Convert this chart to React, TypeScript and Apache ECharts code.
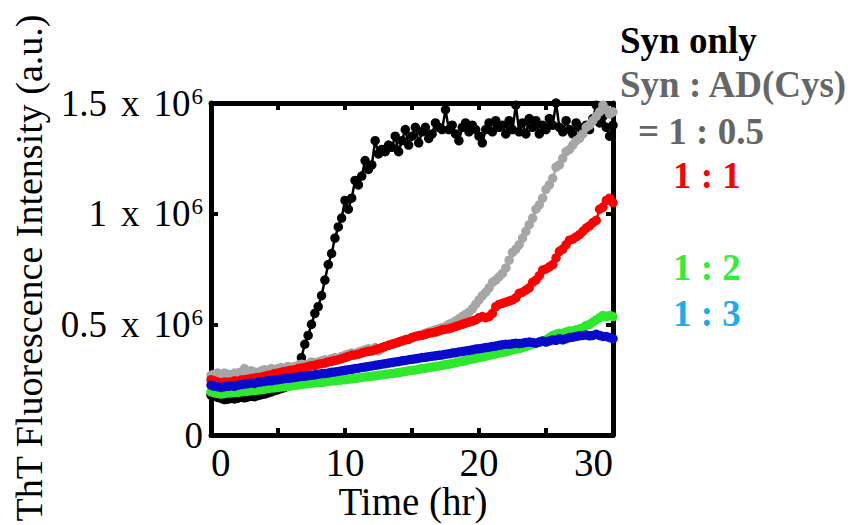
import React, { useEffect, useRef } from "react";
import * as echarts from "echarts";

// Sampling interval of the plate reader (hours)
const TIME_STEP_HR = 0.25;

// ThT fluorescence, units of 10^6 a.u.
const synOnly = [
  0.18, 0.175, 0.17, 0.165, 0.16, 0.162, 0.165, 0.163, 0.166, 0.17, 0.168, 0.172, 0.175, 0.173, 0.178, 0.182, 0.185,
  0.19, 0.195, 0.2, 0.205, 0.21, 0.215, 0.22, 0.24, 0.27,
  0.31, 0.35, 0.41, 0.45, 0.5, 0.55, 0.58, 0.63, 0.7, 0.77, 0.82, 0.89, 0.94, 0.98, 1.06,
  1.02, 1.07, 1.15, 1.13, 1.17, 1.24, 1.2, 1.22, 1.33, 1.27, 1.29, 1.28, 1.31, 1.3, 1.35, 1.28, 1.33, 1.38, 1.31, 1.35,
  1.39, 1.32, 1.37, 1.39, 1.34, 1.36, 1.41, 1.39, 1.38, 1.47, 1.38, 1.4, 1.36, 1.33, 1.39, 1.41, 1.37, 1.4, 1.38, 1.35,
  1.32, 1.38, 1.41, 1.37, 1.42, 1.39, 1.4, 1.36, 1.42, 1.38, 1.49, 1.37, 1.41, 1.36, 1.43, 1.39, 1.42, 1.36, 1.4, 1.38,
  1.43, 1.4, 1.5, 1.39, 1.37, 1.42, 1.38, 1.36, 1.41, 1.39, 1.37, 1.4, 1.38, 1.43, 1.49, 1.41, 1.44, 1.39, 1.35, 1.4,
];

const ratio1to05 = [
  0.27, 0.275, 0.28, 0.27, 0.28, 0.275, 0.27, 0.28, 0.28, 0.285, 0.3, 0.28, 0.29, 0.285, 0.28, 0.29, 0.295, 0.29, 0.3, 0.295, 0.3,
  0.305, 0.3, 0.31, 0.305, 0.31, 0.315, 0.32, 0.315, 0.32, 0.33, 0.325, 0.33, 0.335, 0.34, 0.335, 0.345, 0.35, 0.345, 0.355, 0.36,
  0.365, 0.37, 0.365, 0.375, 0.38, 0.385, 0.39, 0.385, 0.395, 0.38, 0.39, 0.4, 0.405, 0.41, 0.415, 0.42, 0.425, 0.43, 0.435, 0.44,
  0.445, 0.45, 0.455, 0.46, 0.465, 0.47, 0.475, 0.48, 0.485, 0.49, 0.5, 0.505, 0.515, 0.525, 0.535, 0.545, 0.555, 0.57, 0.59, 0.61,
  0.63, 0.645, 0.665, 0.69, 0.7, 0.715, 0.73, 0.755, 0.79, 0.825, 0.84, 0.86, 0.89, 0.92, 0.95, 0.98, 1.02, 1.04, 1.07, 1.11,
  1.13, 1.16, 1.21, 1.22, 1.25, 1.28, 1.29, 1.31, 1.33, 1.34, 1.36, 1.39, 1.4, 1.42, 1.44, 1.46, 1.49, 1.47, 1.45, 1.46,
];

const ratio1to1 = [
  0.25, 0.245, 0.24, 0.235, 0.24, 0.238, 0.24, 0.245, 0.243, 0.248, 0.25, 0.252, 0.255, 0.258, 0.26, 0.262, 0.265, 0.27, 0.272, 0.278, 0.28,
  0.283, 0.287, 0.29, 0.293, 0.295, 0.3, 0.303, 0.305, 0.31, 0.313, 0.315, 0.32, 0.322, 0.325, 0.33, 0.333, 0.337, 0.34, 0.345, 0.35,
  0.355, 0.36, 0.362, 0.365, 0.37, 0.375, 0.378, 0.38, 0.385, 0.39, 0.395, 0.4, 0.405, 0.41, 0.415, 0.42, 0.425, 0.43, 0.432, 0.44,
  0.445, 0.448, 0.45, 0.455, 0.46, 0.462, 0.465, 0.47, 0.475, 0.478, 0.48, 0.485, 0.49, 0.495, 0.5, 0.505, 0.51, 0.515, 0.52, 0.53,
  0.535, 0.53, 0.535, 0.55, 0.58, 0.59, 0.595, 0.6, 0.605, 0.61, 0.62, 0.64, 0.645, 0.655, 0.665, 0.69, 0.7, 0.72, 0.745, 0.75,
  0.76, 0.77, 0.8, 0.83, 0.84, 0.86, 0.88, 0.885, 0.895, 0.905, 0.92, 0.935, 0.945, 0.96, 0.97, 1.02, 1.03, 1.06, 1.07, 1.05,
];

const ratio1to2 = [
  0.195, 0.19, 0.188, 0.185, 0.187, 0.19, 0.19, 0.192, 0.193, 0.195, 0.197, 0.198, 0.2, 0.202, 0.203, 0.205, 0.207, 0.21, 0.212, 0.213, 0.215,
  0.217, 0.218, 0.22, 0.222, 0.224, 0.226, 0.228, 0.23, 0.232, 0.233, 0.235, 0.237, 0.238, 0.24, 0.242, 0.244, 0.245, 0.247, 0.249, 0.25,
  0.252, 0.254, 0.256, 0.258, 0.26, 0.262, 0.264, 0.266, 0.268, 0.27, 0.272, 0.274, 0.276, 0.278, 0.28, 0.282, 0.285, 0.287, 0.29, 0.292,
  0.294, 0.297, 0.3, 0.302, 0.305, 0.307, 0.31, 0.312, 0.315, 0.318, 0.32, 0.323, 0.326, 0.33, 0.333, 0.336, 0.34, 0.343, 0.346, 0.35,
  0.353, 0.356, 0.36, 0.363, 0.366, 0.37, 0.373, 0.376, 0.38, 0.384, 0.388, 0.39, 0.395, 0.4, 0.405, 0.41, 0.415, 0.42, 0.425, 0.43,
  0.44, 0.45, 0.455, 0.46, 0.46, 0.465, 0.47, 0.47, 0.475, 0.48, 0.485, 0.495, 0.5, 0.51, 0.52, 0.53, 0.54, 0.535, 0.54, 0.535,
];

const ratio1to3 = [
  0.225, 0.22, 0.218, 0.215, 0.218, 0.22, 0.222, 0.22, 0.225, 0.228, 0.23, 0.232, 0.235, 0.233, 0.238, 0.24, 0.242, 0.245, 0.245, 0.248, 0.25,
  0.252, 0.255, 0.256, 0.258, 0.26, 0.262, 0.265, 0.266, 0.268, 0.27, 0.272, 0.275, 0.277, 0.278, 0.28, 0.283, 0.285, 0.287, 0.29, 0.292,
  0.295, 0.297, 0.3, 0.302, 0.305, 0.307, 0.31, 0.312, 0.315, 0.317, 0.32, 0.322, 0.325, 0.327, 0.33, 0.332, 0.335, 0.337, 0.34, 0.342,
  0.344, 0.347, 0.35, 0.351, 0.354, 0.356, 0.358, 0.36, 0.362, 0.365, 0.367, 0.37, 0.372, 0.375, 0.377, 0.38, 0.382, 0.385, 0.388, 0.39,
  0.392, 0.395, 0.397, 0.4, 0.402, 0.405, 0.408, 0.41, 0.41, 0.412, 0.415, 0.413, 0.415, 0.418, 0.42, 0.418, 0.415, 0.42, 0.425, 0.42,
  0.425, 0.43, 0.428, 0.435, 0.43, 0.435, 0.44, 0.442, 0.445, 0.448, 0.45, 0.452, 0.448, 0.45, 0.455, 0.45, 0.445, 0.445, 0.44, 0.435,
];

const xTickLabels = ["0", "10", "20", "30"];
const yTickLabels: Record<string, string> = {
  "0": "0",
  "0.5": "{n|0.5}{x|x}{n|10}{s|6}",
  "1": "{n|1}{x|x}{n|10}{s|6}",
  "1.5": "{n|1.5}{x|x}{n|10}{s|6}",
};

const legendLines = [
  { text: "Syn only", color: "#000000" },
  { text: "Syn : AD(Cys)", color: "#666666" },
  { text: "= 1 : 0.5", color: "#666666" },
  { text: "1 : 1", color: "#ff0000" },
  { text: "1 : 2", color: "#33ee33" },
  { text: "1 : 3", color: "#1eaaee" },
];

const SERIF = "'Liberation Serif', 'Times New Roman', serif";

export default function App() {
  const ref = useRef<HTMLDivElement>(null);
  useEffect(() => {
    document.body.style.margin = "0";
    if (!ref.current) return;
    const chart = echarts.init(ref.current, null, { renderer: "svg" });
    const times = synOnly.map((_, i) => i * TIME_STEP_HR);
    const toData = (vals: number[]) => vals.map((v, i) => [times[i], v]);
    const mk = (name: string, vals: number[], color: string, z: number) => ({
      name,
      type: "line",
      data: toData(vals),
      symbol: "circle",
      symbolSize: 9.5,
      showSymbol: true,
      showAllSymbol: true,
      z,
      lineStyle: { color, width: 2.5 },
      itemStyle: { color },
      clip: false,
    });
    const axisLine = { show: true, onZero: false, lineStyle: { color: "#000", width: 5 } };
    const axisTick = { show: true, inside: true, length: 7, lineStyle: { color: "#000", width: 4 } };
    const legendPos = [
      { x: 620, y: 40 },
      { x: 620, y: 84 },
      { x: 638, y: 131 },
      { x: 673, y: 175 },
      { x: 673, y: 267 },
      { x: 673, y: 313 },
    ];
    chart.setOption({
      animation: false,
      backgroundColor: "#ffffff",
      grid: { left: 211, right: 242, top: 103, bottom: 90, containLabel: false },
      xAxis: [
        {
          type: "value",
          position: "bottom",
          min: 0,
          max: 30,
          interval: 5,
          axisLine,
          axisTick,
          splitLine: { show: false },
          axisLabel: {
            color: "#000",
            fontFamily: SERIF,
            fontSize: 39,
            margin: 8,
            alignMinLabel: "left",
            alignMaxLabel: "right",
            formatter: (v: number) => (xTickLabels.includes(String(v)) ? String(v) : ""),
          },
        },
        {
          type: "value",
          position: "top",
          min: 0,
          max: 30,
          interval: 5,
          axisLine,
          axisTick,
          splitLine: { show: false },
          axisLabel: { show: false },
        },
      ],
      yAxis: [
        {
          type: "value",
          position: "left",
          min: 0,
          max: 1.5,
          interval: 0.5,
          axisLine,
          axisTick,
          splitLine: { show: false },
          axisLabel: {
            color: "#000",
            margin: 8,
            fontFamily: SERIF,
            fontSize: 37,
            formatter: (v: number) => yTickLabels[String(v)] ?? "",
            rich: {
              n: { fontFamily: SERIF, fontSize: 37, color: "#000" },
              x: { fontFamily: SERIF, fontSize: 37, color: "#000", padding: [0, 14, 0, 14] },
              s: { fontFamily: SERIF, fontSize: 23, color: "#000", verticalAlign: "top", padding: [0, 0, 0, 1] },
            },
          },
        },
        {
          type: "value",
          position: "right",
          min: 0,
          max: 1.5,
          interval: 0.5,
          axisLine,
          axisTick,
          splitLine: { show: false },
          axisLabel: { show: false },
        },
      ],
      series: [
        mk("Syn only", synOnly, "#000000", 2),
        mk("Syn : AD(Cys) = 1 : 0.5", ratio1to05, "#a6a6a6", 3),
        mk("1 : 1", ratio1to1, "#ff0000", 4),
        mk("1 : 2", ratio1to2, "#2ee82e", 5),
        mk("1 : 3", ratio1to3, "#0a0acc", 6),
      ],
      graphic: [
        {
          type: "text",
          x: 29,
          y: 268,
          rotation: Math.PI / 2,
          style: {
            text: "ThT Fluorescence Intensity (a.u.)",
            fontFamily: SERIF,
            fontSize: 38,
            fill: "#000",
            textAlign: "center",
            textVerticalAlign: "middle",
          },
        },
        {
          type: "text",
          x: 413,
          y: 501,
          style: {
            text: "Time (hr)",
            fontFamily: SERIF,
            fontSize: 39,
            fill: "#000",
            textAlign: "center",
            textVerticalAlign: "middle",
          },
        },
        ...legendLines.map((l, i) => ({
          type: "text",
          x: legendPos[i].x,
          y: legendPos[i].y,
          style: {
            text: l.text,
            fontFamily: SERIF,
            fontWeight: "bold",
            fontSize: 37,
            fill: l.color,
            textAlign: "left",
            textVerticalAlign: "middle",
          },
        })),
      ],
    });
    return () => chart.dispose();
  }, []);
  return <div ref={ref} style={{ width: 855, height: 525 }} />;
}
